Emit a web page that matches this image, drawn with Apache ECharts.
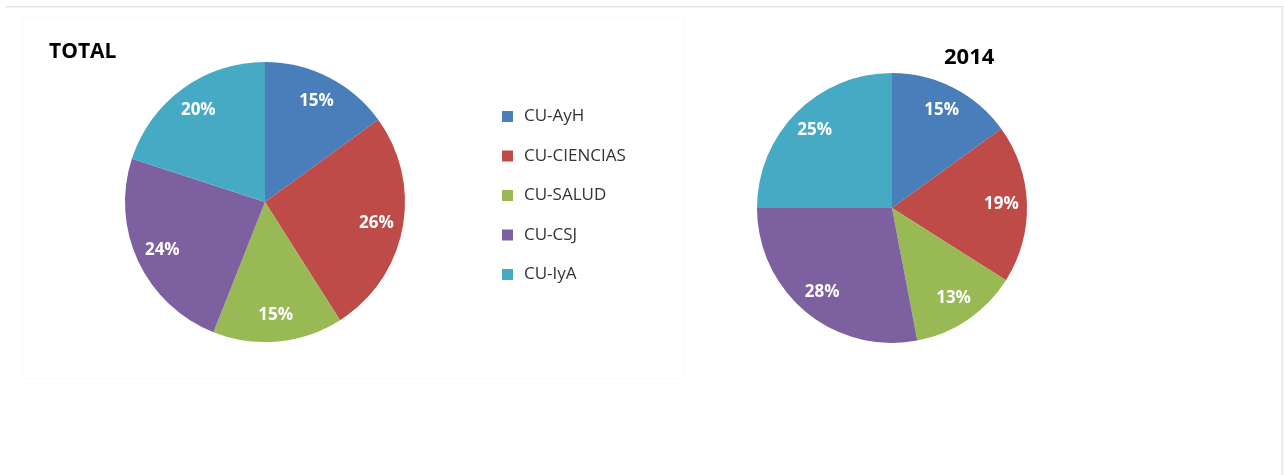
<!DOCTYPE html>
<html>
<head>
<meta charset="utf-8">
<script src="https://cdn.jsdelivr.net/npm/echarts@6/dist/echarts.min.js"></script>
<style>
  html, body { margin: 0; padding: 0; background: #fff; }
  #main { width: 1284px; height: 475px; }
</style>
</head>
<body>
<div id="main"></div>
<script>
// categorias y porcentajes
var categories = ["CU-AyH", "CU-CIENCIAS", "CU-SALUD", "CU-CSJ", "CU-IyA"];
var totalValues = [15, 26, 15, 24, 20];
var values2014 = [15, 19, 13, 28, 25];
var colors = ["#4A7EBB", "#BE4B48", "#98B954", "#7D60A0", "#46AAC5"];

var font = "'Open Sans', 'Liberation Sans', sans-serif";

function toData(vals) {
  return categories.map(function (name, i) {
    return { name: name, value: vals[i] };
  });
}

// pie con color + una capa transparente solo para las etiquetas (mas cerca del borde)
function pieSeries(vals, center, r) {
  return [
    {
      type: "pie",
      center: center,
      radius: [0, r],
      startAngle: 90,
      clockwise: true,
      silent: true,
      label: { show: false },
      labelLine: { show: false },
      itemStyle: { borderWidth: 0 },
      data: toData(vals),
    },
    {
      type: "pie",
      center: center,
      radius: [Math.round(r * 0.58), r],
      startAngle: 90,
      clockwise: true,
      silent: true,
      legendHoverLink: false,
      itemStyle: { color: "transparent", borderWidth: 0 },
      label: {
        show: true,
        position: "inside",
        formatter: "{c}%",
        color: "#fff",
        fontFamily: font,
        fontWeight: "bold",
        fontSize: 17,
      },
      labelLine: { show: false },
      data: toData(vals),
    },
  ];
}

var myChart = echarts.init(document.getElementById("main"));

myChart.setOption({
  animation: false,
  color: colors,
  title: [
    {
      text: "TOTAL",
      left: 44,
      top: 37,
      textStyle: { fontFamily: font, fontWeight: "bold", fontSize: 21, color: "#000" },
    },
    {
      text: "2014",
      left: 939,
      top: 42,
      textStyle: { fontFamily: font, fontWeight: "bold", fontSize: 22, color: "#000" },
    },
  ],
  legend: {
    data: categories,
    orient: "vertical",
    left: 497,
    top: 103,
    icon: "rect",
    itemWidth: 11,
    itemHeight: 11,
    itemGap: 22.5,
    selectedMode: false,
    textStyle: {
      fontFamily: font,
      fontSize: 17,
      lineHeight: 16,
      color: "#333",
      padding: [0, 0, 0, 6],
    },
  },
  // bordes del recorte original
  graphic: [
    { type: "rect", shape: { x: 6, y: 6, width: 1284, height: 1.5 }, style: { fill: "#e4e4e4" } },
    { type: "rect", shape: { x: 1281.5, y: 6, width: 1.5, height: 470 }, style: { fill: "#e8e8e8" } },
    {
      type: "rect",
      shape: { x: 22.5, y: 17.5, width: 662, height: 361 },
      style: { fill: "none", stroke: "#fafafa", lineWidth: 1 },
    },
  ],
  series: pieSeries(totalValues, [265, 202], 140).concat(pieSeries(values2014, [892, 208], 135)),
});
</script>
</body>
</html>
